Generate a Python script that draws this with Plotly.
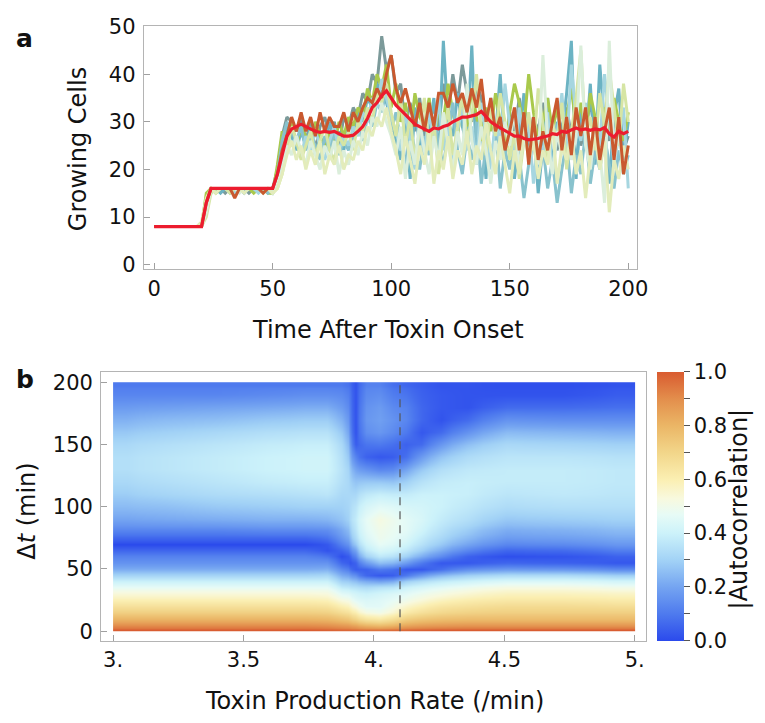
import numpy as np
import plotly.graph_objects as go

W, H = 765, 723

# ---------------- Panel a data ----------------
times = list(range(0, 201, 2))

early_gray = [8, 8, 8, 8, 8, 8, 8, 8, 8, 8, 8, 14, 16, 16, 16, 15, 16, 16, 16, 16, 15, 16, 16, 16, 16]
late_gray = [16, 20, 27, 31, 30, 28, 31, 26, 30, 24,
             29, 31, 27, 30, 25, 31, 29, 33, 31, 36,
             34, 40, 38, 48, 41, 44, 36, 38, 29, 34,
             28, 35, 27, 30, 33, 29, 38, 32, 40, 34,
             42, 36, 30, 38, 35, 28, 33, 26, 30, 24,
             32, 27, 35, 29, 25, 31, 28, 34, 26, 30,
             24, 29, 33, 27, 31, 25, 29, 34, 28, 23,
             30, 26, 32, 28, 24, 27]

early_teal = [8, 8, 8, 8, 8, 8, 8, 8, 8, 8, 8, 12, 16, 16, 15, 16, 16, 16, 16, 15, 16, 16, 16, 16, 16]
late_teal = [16, 18, 25, 29, 27, 24, 28, 25, 29, 23,
             27, 25, 30, 26, 28, 24, 30, 28, 32, 30,
             35, 33, 38, 36, 34, 30, 26, 22, 30, 18,
             33, 25, 30, 28, 35, 22, 47, 30, 27, 36,
             29, 25, 46, 21, 30, 18, 35, 27, 40, 23,
             31, 18, 27, 36, 22, 29, 15, 25, 35, 20,
             30, 27, 36, 47, 18, 33, 25, 38, 21, 42,
             29, 17, 31, 37, 22, 30]

early_lightblue = [8, 8, 8, 8, 8, 8, 8, 8, 8, 8, 8, 13, 15, 16, 16, 16, 16, 15, 16, 16, 16, 16, 15, 16, 16]
late_lightblue = [15, 17, 22, 27, 25, 27, 23, 27, 24, 28,
                  25, 22, 26, 29, 24, 27, 25, 29, 27, 32,
                  30, 35, 33, 39, 35, 31, 28, 24, 32, 26,
                  20, 29, 23, 32, 26, 35, 24, 30, 21, 28,
                  33, 24, 29, 22, 34, 27, 20, 31, 25, 38,
                  29, 22, 33, 26, 30, 17, 27, 23, 32, 19,
                  28, 36, 24, 42, 30, 26, 34, 20, 29, 25,
                  40, 31, 21, 27, 33, 16]

early_lime = [8, 8, 8, 8, 8, 8, 8, 8, 8, 8, 8, 15, 16, 15, 16, 16, 16, 16, 16, 16, 16, 15, 16, 16, 15]
late_lime = [15, 21, 28, 26, 30, 25, 29, 27, 25, 30,
             27, 24, 28, 25, 30, 27, 31, 29, 33, 31,
             37, 34, 40, 37, 42, 33, 38, 30, 34, 27,
             36, 31, 29, 35, 26, 33, 30, 38, 32, 27,
             35, 29, 37, 31, 26, 33, 28, 36, 30, 25,
             32, 38, 34, 29, 40, 32, 26, 30, 35, 28,
             33, 25, 31, 37, 29, 34, 27, 36, 31, 25,
             33, 28, 35, 30, 26, 32]

early_paleyg = [8, 8, 8, 8, 8, 8, 8, 8, 8, 8, 8, 10, 15, 16, 16, 16, 15, 16, 16, 16, 16, 16, 16, 15, 16]
late_paleyg = [15, 16, 19, 24, 29, 26, 22, 25, 28, 23,
               26, 29, 24, 22, 27, 25, 28, 24, 30, 28,
               33, 30, 36, 34, 38, 32, 27, 35, 25, 31,
               22, 28, 35, 24, 30, 19, 27, 33, 23, 29,
               36, 26, 31, 40, 28, 23, 33, 27, 36, 30,
               22, 28, 18, 26, 32, 24, 37, 29, 22, 30,
               26, 34, 20, 28, 35, 45, 27, 31, 24, 36,
               29, 41, 33, 25, 38, 30]

early_palegreen = [8, 8, 8, 8, 8, 8, 8, 8, 8, 8, 8, 11, 16, 16, 16, 16, 16, 16, 15, 16, 16, 16, 16, 16, 16]
late_palegreen = [15, 17, 20, 25, 23, 27, 24, 21, 26, 23,
                  20, 25, 22, 26, 19, 24, 21, 26, 23, 28,
                  25, 31, 29, 34, 30, 27, 23, 29, 18, 26,
                  21, 30, 24, 19, 27, 22, 32, 25, 20, 28,
                  23, 38, 26, 21, 29, 24, 17, 26, 22, 30,
                  25, 33, 20, 27, 23, 29, 21, 44, 26, 19,
                  28, 23, 31, 22, 27, 46, 25, 20, 29, 24,
                  13, 47, 22, 28, 19, 25]

early_palegy = [8, 8, 8, 8, 8, 8, 8, 8, 8, 8, 9, 14, 16, 15, 16, 16, 16, 16, 16, 15, 16, 16, 16, 16, 16]
late_palegy = [15, 16, 19, 23, 26, 22, 25, 20, 24, 21,
               26, 19, 23, 21, 25, 20, 23, 22, 26, 24,
               29, 27, 31, 29, 33, 28, 24, 19, 27, 22,
               17, 25, 21, 28, 17, 24, 20, 27, 18, 24,
               21, 28, 19, 25, 22, 30, 24, 19, 27, 21,
               15, 24, 19, 29, 22, 26, 18, 24, 21, 30,
               17, 25, 22, 28, 19, 24, 14, 23, 27, 20,
               26, 11, 22, 18, 25, 20]

early_teal2 = [8, 8, 8, 8, 8, 8, 8, 8, 8, 8, 8, 13, 16, 16, 16, 16, 15, 16, 16, 16, 16, 16, 16, 16, 15]
late_teal2 = [16, 19, 26, 30, 28, 26, 29, 24, 27, 25,
              22, 27, 24, 28, 23, 26, 24, 27, 29, 26,
              31, 29, 34, 32, 37, 28, 32, 26, 21, 29,
              24, 20, 27, 23, 31, 25, 21, 28, 34, 24,
              19, 27, 22, 30, 17, 25, 21, 29, 16, 24,
              20, 27, 23, 14, 21, 26, 19, 25, 16, 22,
              13, 20, 26, 15, 23, 19, 28, 17, 24, 20,
              27, 21, 16, 24, 19, 23]

early_orange = [8, 8, 8, 8, 8, 8, 8, 8, 8, 8, 8, 13, 16, 16, 16, 16, 16, 14, 16, 16, 16, 16, 16, 15, 16]
late_orange = [16, 19, 24, 27, 31, 28, 32, 28, 31, 27,
               32, 28, 31, 29, 29, 32, 28, 32, 30, 33,
               35, 34, 37, 35, 40, 44, 37, 34, 37, 33,
               29, 34, 28, 34, 29, 36, 36, 33, 38, 34,
               36, 32, 37, 33, 39, 30, 35, 28, 31, 24,
               28, 33, 24, 32, 21, 31, 22, 28, 24, 30,
               35, 24, 31, 23, 33, 27, 33, 23, 31, 22,
               28, 33, 22, 31, 19, 25]

mean_counts = ([8] * 10 + [8, 13] + [16] * 14 +
               [19, 23, 27, 28.5, 29, 29.5, 29, 28.5, 28, 27.8,
                28, 27.8, 28, 27.5, 27, 27, 27.2, 28, 29, 30.7,
                33, 34, 35.5, 36.5, 35, 33.5, 32.5, 31.5, 30.5, 29.5,
                29, 28.5, 28, 28.7, 28.5, 29, 29.3, 30, 30.5, 31,
                31, 31.3, 31.5, 32.2, 31, 30, 29.3, 28.7, 28.2, 27.5,
                27, 27, 26.5, 26.2, 26.3, 26.5, 26.8, 27, 27.5, 27.3,
                28, 27.8, 28.3, 28.7, 28.3, 28.5, 28.2, 28.5, 28.3, 28.8,
                27.5, 26.8, 28, 27.5, 28])

runs = [
    ("#7c9a9a", early_gray + late_gray),
    ("#6cb3c3", early_teal + late_teal),
    ("#a9c94c", early_lime + late_lime),
    ("#88c2cd", early_teal2 + late_teal2),
    ("#a6d6e0", early_lightblue + late_lightblue),
    ("#d6e5a4", early_paleyg + late_paleyg),
    ("#dbeedb", early_palegreen + late_palegreen),
    ("#e3ecbb", early_palegy + late_palegy),
    ("#c9592f", early_orange + late_orange),
]

# ---------------- Panel b data ----------------
rate_edges = [3.0, 3.1, 3.3, 3.5, 3.68, 3.79, 3.85, 3.9, 3.915, 3.945, 3.995,
              4.045, 4.095, 4.15, 4.215, 4.3, 4.42, 4.6, 4.85, 5.0]
lag_edges = [0, 2.5, 7.5, 12.5, 17.5, 22.5, 27.5, 32.5, 37.5, 42.5, 47.5,
             52.5, 57.5, 62.5, 67.5, 72.5, 77.5, 85, 95, 105, 115, 125,
             135, 145, 155, 165, 175, 185, 195, 200]

# one list per rate column, from lag 0 up to lag 200
autocorr_columns = [
    [1.0, 0.9, 0.8, 0.72, 0.66, 0.6, 0.54, 0.47, 0.4, 0.31, 0.22, 0.16, 0.12, 0.06, 0.0, 0.06, 0.13, 0.2, 0.25, 0.29, 0.32, 0.34, 0.34, 0.32, 0.28, 0.23, 0.18, 0.13, 0.1],
    [1.0, 0.9, 0.8, 0.72, 0.66, 0.6, 0.54, 0.47, 0.4, 0.31, 0.22, 0.16, 0.12, 0.06, 0.0, 0.06, 0.13, 0.21, 0.26, 0.31, 0.34, 0.36, 0.36, 0.34, 0.3, 0.25, 0.19, 0.13, 0.1],
    [1.0, 0.9, 0.8, 0.72, 0.66, 0.6, 0.54, 0.47, 0.4, 0.31, 0.22, 0.16, 0.12, 0.06, 0.0, 0.06, 0.13, 0.22, 0.28, 0.33, 0.36, 0.38, 0.38, 0.36, 0.32, 0.26, 0.2, 0.13, 0.1],
    [1.0, 0.9, 0.8, 0.72, 0.66, 0.6, 0.54, 0.47, 0.4, 0.31, 0.22, 0.16, 0.12, 0.06, 0.0, 0.06, 0.14, 0.23, 0.29, 0.34, 0.38, 0.4, 0.4, 0.38, 0.34, 0.28, 0.21, 0.14, 0.1],
    [1.0, 0.9, 0.8, 0.72, 0.66, 0.6, 0.54, 0.47, 0.4, 0.31, 0.22, 0.16, 0.12, 0.06, 0.0, 0.06, 0.14, 0.23, 0.3, 0.35, 0.39, 0.41, 0.41, 0.39, 0.35, 0.29, 0.22, 0.15, 0.1],
    [0.99, 0.89, 0.79, 0.71, 0.65, 0.59, 0.53, 0.47, 0.4, 0.32, 0.23, 0.16, 0.09, 0.02, 0.03, 0.09, 0.15, 0.24, 0.3, 0.36, 0.39, 0.41, 0.41, 0.39, 0.35, 0.29, 0.22, 0.15, 0.1],
    [0.98, 0.87, 0.76, 0.67, 0.6, 0.53, 0.46, 0.38, 0.3, 0.22, 0.14, 0.06, 0.01, 0.06, 0.12, 0.17, 0.21, 0.27, 0.3, 0.32, 0.34, 0.35, 0.34, 0.32, 0.28, 0.23, 0.18, 0.14, 0.1],
    [0.975, 0.855, 0.73, 0.635, 0.56, 0.5, 0.44, 0.36, 0.28, 0.18, 0.08, 0.02, 0.06, 0.13, 0.2, 0.25, 0.29, 0.33, 0.33, 0.32, 0.3, 0.27, 0.22, 0.17, 0.13, 0.11, 0.1, 0.09, 0.07],
    [0.97, 0.84, 0.7, 0.6, 0.52, 0.46, 0.42, 0.35, 0.26, 0.15, 0.04, 0.05, 0.13, 0.2, 0.28, 0.33, 0.36, 0.38, 0.36, 0.32, 0.27, 0.2, 0.12, 0.04, 0.02, 0.02, 0.02, 0.02, 0.02],
    [0.96, 0.8, 0.64, 0.52, 0.46, 0.44, 0.4, 0.33, 0.22, 0.06, 0.05, 0.18, 0.3, 0.37, 0.41, 0.44, 0.46, 0.47, 0.43, 0.37, 0.28, 0.16, 0.05, 0.09, 0.15, 0.17, 0.16, 0.14, 0.12],
    [0.96, 0.78, 0.62, 0.5, 0.46, 0.45, 0.42, 0.35, 0.2, 0.03, 0.1, 0.26, 0.37, 0.43, 0.47, 0.49, 0.5, 0.52, 0.46, 0.39, 0.28, 0.13, 0.03, 0.1, 0.17, 0.19, 0.18, 0.15, 0.12],
    [0.97, 0.8, 0.66, 0.55, 0.5, 0.47, 0.44, 0.36, 0.22, 0.04, 0.08, 0.24, 0.35, 0.41, 0.45, 0.47, 0.48, 0.49, 0.45, 0.38, 0.27, 0.14, 0.04, 0.08, 0.14, 0.16, 0.14, 0.11, 0.08],
    [0.98, 0.84, 0.72, 0.62, 0.56, 0.5, 0.46, 0.4, 0.3, 0.1, 0.03, 0.18, 0.3, 0.37, 0.41, 0.44, 0.46, 0.46, 0.43, 0.38, 0.3, 0.2, 0.08, 0.05, 0.1, 0.13, 0.12, 0.09, 0.06],
    [0.99, 0.86, 0.75, 0.66, 0.6, 0.54, 0.49, 0.43, 0.34, 0.18, 0.03, 0.1, 0.22, 0.3, 0.35, 0.38, 0.41, 0.43, 0.42, 0.4, 0.35, 0.28, 0.18, 0.07, 0.03, 0.06, 0.06, 0.05, 0.04],
    [1.0, 0.87, 0.77, 0.69, 0.64, 0.58, 0.52, 0.46, 0.38, 0.25, 0.08, 0.03, 0.14, 0.22, 0.28, 0.32, 0.35, 0.38, 0.4, 0.4, 0.38, 0.34, 0.27, 0.17, 0.07, 0.02, 0.03, 0.03, 0.02],
    [1.0, 0.88, 0.78, 0.71, 0.66, 0.61, 0.55, 0.49, 0.41, 0.3, 0.15, 0.03, 0.05, 0.13, 0.2, 0.25, 0.29, 0.34, 0.37, 0.39, 0.39, 0.37, 0.33, 0.26, 0.16, 0.07, 0.02, 0.02, 0.02],
    [1.0, 0.88, 0.78, 0.72, 0.68, 0.63, 0.58, 0.52, 0.44, 0.33, 0.18, 0.06, 0.01, 0.06, 0.13, 0.18, 0.22, 0.28, 0.33, 0.36, 0.38, 0.38, 0.36, 0.32, 0.25, 0.16, 0.07, 0.02, 0.01],
    [1.0, 0.88, 0.78, 0.72, 0.68, 0.63, 0.58, 0.52, 0.44, 0.33, 0.17, 0.05, 0.02, 0.07, 0.14, 0.19, 0.23, 0.29, 0.34, 0.37, 0.38, 0.38, 0.36, 0.31, 0.24, 0.15, 0.07, 0.02, 0.01],
    [1.0, 0.88, 0.78, 0.72, 0.67, 0.62, 0.57, 0.5, 0.42, 0.3, 0.14, 0.03, 0.05, 0.11, 0.17, 0.21, 0.25, 0.3, 0.34, 0.36, 0.37, 0.37, 0.35, 0.3, 0.23, 0.15, 0.08, 0.04, 0.02],
]
marked_rate = 4.1

rate_ticks = [3.0, 3.5, 4.0, 4.5, 5.0]
rate_ticktext = ["3.", "3.5", "4.", "4.5", "5."]
lag_ticks = [0, 50, 100, 150, 200]
count_ticks = [0, 10, 20, 30, 40, 50]
time_ticks = [0, 50, 100, 150, 200]
cbar_ticks = [0.0, 0.1, 0.2, 0.3, 0.4, 0.5, 0.6, 0.7, 0.8, 0.9, 1.0]
cbar_ticktext = ["0.0", "", "0.2", "", "0.4", "", "0.6", "", "0.8", "", "1.0"]

colorscale = [[0.0, "#2b4aec"], [0.1, "#4e7aee"], [0.2, "#74a4f1"], [0.3, "#a2d2f6"],
              [0.4, "#ccf2fa"], [0.47, "#e7fbf6"], [0.53, "#f8f9de"], [0.6, "#fbefb2"],
              [0.7, "#f2d68a"], [0.8, "#ebb666"], [0.9, "#e38e4c"], [1.0, "#d95b30"]]

FONT = "DejaVu Sans"


def px(x):
    return x / W


def py(y):
    return 1 - y / H


fig = go.Figure()

for color, vals in runs:
    fig.add_trace(go.Scatter(x=times, y=vals, mode="lines",
                             line=dict(color=color, width=3),
                             showlegend=False, hoverinfo="skip",
                             xaxis="x", yaxis="y"))
fig.add_trace(go.Scatter(x=times, y=mean_counts, mode="lines",
                         line=dict(color="#ec1c2e", width=3.2),
                         showlegend=False, xaxis="x", yaxis="y"))

z = np.array(autocorr_columns).T
fig.add_trace(go.Heatmap(
    x=rate_edges, y=lag_edges, z=z, zmin=0, zmax=1, zsmooth="best",
    colorscale=colorscale, xaxis="x2", yaxis="y2",
    colorbar=dict(
        x=px(667.7), xanchor="left", xpad=0,
        y=py(645.7), yanchor="bottom", ypad=0,
        len=(645.7 - 370) / H, lenmode="fraction",
        thickness=26.6, thicknessmode="pixels",
        outlinewidth=0,
        tickmode="array", tickvals=cbar_ticks, ticktext=cbar_ticktext,
        ticks="outside", ticklen=6, tickcolor="#555", tickwidth=1,
        tickfont=dict(family=FONT, size=21, color="#111"),
    ),
))
fig.add_trace(go.Scatter(x=[marked_rate, marked_rate], y=[0, 200], mode="lines",
                         line=dict(color="#555555", width=1.2, dash="8px,6px"),
                         showlegend=False, hoverinfo="skip",
                         xaxis="x2", yaxis="y2"))

axis_common = dict(showline=True, linecolor="#b4b4b4", linewidth=1, mirror=True,
                   ticks="inside", ticklen=6, tickcolor="#a0a0a0", tickwidth=1,
                   showgrid=False, zeroline=False,
                   tickfont=dict(family=FONT, size=21, color="#111"))

fig.update_layout(
    width=W, height=H, margin=dict(l=0, r=0, t=0, b=0),
    paper_bgcolor="white", plot_bgcolor="white", showlegend=False,
    xaxis=dict(domain=[px(146), px(646.7)], range=[-4.4, 203.5], anchor="y",
               tickvals=time_ticks, **axis_common),
    yaxis=dict(domain=[py(265), py(15)], range=[-1.0, 50.2], anchor="x",
               tickvals=count_ticks, ticklabelstandoff=3, **axis_common),
    xaxis2=dict(domain=[px(102.7), px(656)], range=[2.954, 5.042], anchor="y2",
                tickmode="array", tickvals=rate_ticks, ticktext=rate_ticktext,
                **axis_common),
    yaxis2=dict(domain=[py(645.7), py(370)], range=[-7.6, 208.4], anchor="x2",
                tickvals=lag_ticks, ticklabelstandoff=3, **axis_common),
)

title_font = dict(family=FONT, size=24, color="#111")
annotations = [
    dict(text="<b>a</b>", x=px(25), y=py(28), font=dict(family=FONT, size=25, color="#111")),
    dict(text="<b>b</b>", x=px(25), y=py(378), font=dict(family=FONT, size=25, color="#111")),
    dict(text="Growing Cells", x=px(80), y=py(142), textangle=-90, font=title_font),
    dict(text="Time After Toxin Onset", x=px(394), y=py(327), font=title_font),
    dict(text="Δ<i>t</i> (min)", x=px(28), y=py(513), textangle=-90, font=title_font),
    dict(text="Toxin Production Rate (/min)", x=px(380), y=py(708), font=title_font),
    dict(text="|Autocorrelation|", x=px(751), y=py(511), textangle=-90, font=title_font),
]
for a in annotations:
    a.update(xref="paper", yref="paper", xanchor="center", yanchor="middle",
             showarrow=False)
fig.update_layout(annotations=annotations)

fig.write_html("out.html", config={"displayModeBar": False},
               post_script="document.body.style.margin='0px';document.body.style.overflow='hidden';")
